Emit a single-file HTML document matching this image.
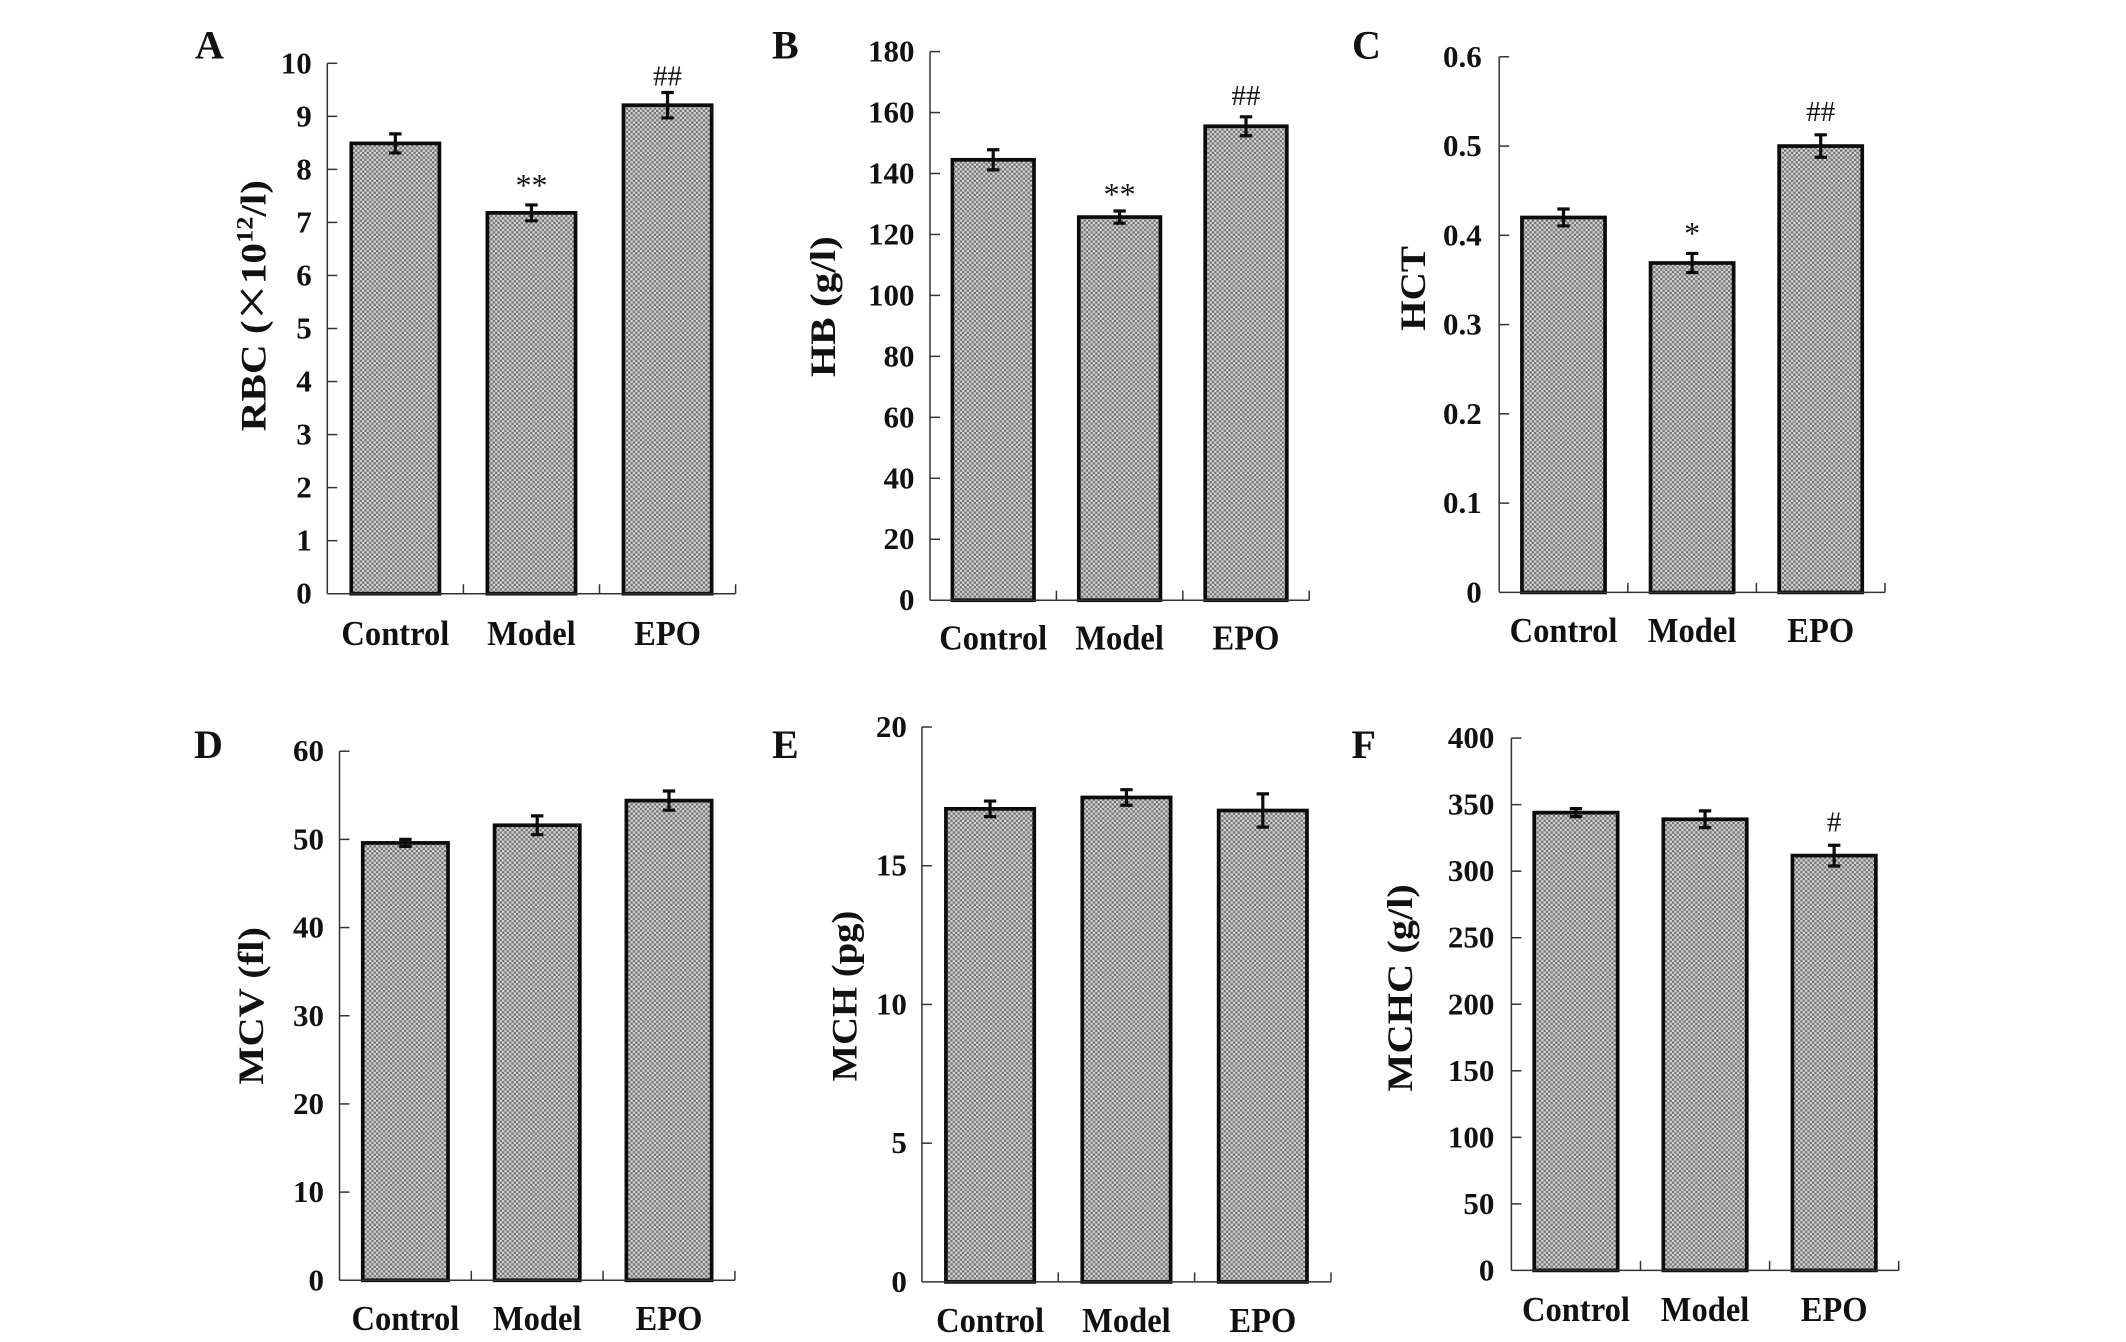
<!DOCTYPE html>
<html lang="en">
<head>
<meta charset="utf-8">
<title>Blood parameter bar charts</title>
<style>
html,body{margin:0;padding:0;background:#fff;}
svg{display:block;}
text{font-family:"Liberation Serif","DejaVu Serif",serif;fill:#111;}
</style>
</head>
<body>
<svg id="figure" xmlns="http://www.w3.org/2000/svg" width="2126" height="1342" viewBox="0 0 2126 1342">
<defs>
<pattern id="dots" patternUnits="userSpaceOnUse" width="4.67" height="4.67">
<rect width="4.67" height="4.67" fill="#d4d4d4"/>
<rect width="2.33" height="2.33" fill="#747474"/>
<rect x="2.33" y="2.33" width="2.34" height="2.34" fill="#747474"/>
</pattern>
</defs>
<rect width="2126" height="1342" fill="#fff"/>
</svg>
<script>
// Shared categories
const categories = ['Control', 'Model', 'EPO'];

// Panel A: RBC
const rbcTicks = ['0','1','2','3','4','5','6','7','8','9','10'];
const rbcValues = [8.49, 7.18, 9.21];
const rbcErrors = [0.18, 0.15, 0.24];
const rbcMarks = ['', '**', '##'];

// Panel B: HB
const hbTicks = ['0','20','40','60','80','100','120','140','160','180'];
const hbValues = [144.5, 125.7, 155.5];
const hbErrors = [3.3, 2.0, 3.1];
const hbMarks = ['', '**', '##'];

// Panel C: HCT
const hctTicks = ['0','0.1','0.2','0.3','0.4','0.5','0.6'];
const hctValues = [0.42, 0.369, 0.5];
const hctErrors = [0.0095, 0.0107, 0.0126];
const hctMarks = ['', '*', '##'];

// Panel D: MCV
const mcvTicks = ['0','10','20','30','40','50','60'];
const mcvValues = [49.6, 51.6, 54.4];
const mcvErrors = [0.4, 1.07, 1.09];
const mcvMarks = ['', '', ''];

// Panel E: MCH
const mchTicks = ['0','5','10','15','20'];
const mchValues = [17.05, 17.46, 16.99];
const mchErrors = [0.28, 0.28, 0.6];
const mchMarks = ['', '', ''];

// Panel F: MCHC
const mchcTicks = ['0','50','100','150','200','250','300','350','400'];
const mchcValues = [344, 339, 311.7];
const mchcErrors = [3, 6.3, 7.8];
const mchcMarks = ['', '', '#'];

const NS = 'http://www.w3.org/2000/svg';
const svg = document.getElementById('figure');

function make(parent, tag, attrs, content) {
  const el = document.createElementNS(NS, tag);
  for (const k in attrs) el.setAttribute(k, attrs[k]);
  if (content !== undefined) el.textContent = content;
  parent.appendChild(el);
  return el;
}

function drawPanel(p) {
  const g = make(svg, 'g', {});
  
  

  const maxTick = parseFloat(p.ticks[p.ticks.length - 1]);
  const yScale = v => p.y0 - (v / maxTick) * (p.y0 - p.yTop);
  const bandW = (p.x1 - p.x0) / p.categories.length;
  const xCenter = i => p.x0 + bandW * (i + 0.5);
  const barOuter = bandW * 0.675;
  const sw = 3.7;

  const letter = make(g, 'text', {x: p.letterX, y: p.letterY, 'font-size': 40, 'font-weight': 'bold'}, p.letter);
  
  

  p.values.forEach((v, i) => {
    const cx = xCenter(i);
    const bar = make(g, 'rect', {
      x: cx - barOuter / 2 + sw / 2,
      y: yScale(v),
      width: barOuter - sw,
      height: p.y0 - yScale(v),
      fill: 'url(#dots)',
      stroke: '#0c0c0c',
      'stroke-width': sw
    });
    
    

    const e = p.errors[i];
    const top = yScale(v + e);
    const bottom = yScale(v - e);
    const err = make(g, 'path', {
      d: 'M' + cx + ' ' + top + 'V' + bottom +
         'M' + (cx - 6.2) + ' ' + top + 'H' + (cx + 6.2) +
         'M' + (cx - 6.2) + ' ' + bottom + 'H' + (cx + 6.2),
      fill: 'none',
      stroke: '#0c0c0c',
      'stroke-width': 3.2
    });
    
    

    if (p.marks[i]) {
      const lift = p.markLift[i];
      const mark = make(g, 'text', {
        x: cx, y: top - lift,
        'font-size': p.marks[i].charAt(0) === '*' ? 32 : 29,
        'text-anchor': 'middle'
      }, p.marks[i]);
      
      
    }

    const lab = make(g, 'text', {
      transform: 'translate(' + cx + ',' + (p.y0 + p.labelDrop) + ') scale(0.93,1)',
      'font-size': 35,
      'font-weight': 'bold',
      'text-anchor': 'middle'
    }, p.categories[i]);
    
    
  });

  const yAxis = make(g, 'line', {x1: p.x0, x2: p.x0, y1: p.yTop, y2: p.y0, stroke: '#333', 'stroke-width': 1.5});
  
  

  const xAxis = make(g, 'line', {x1: p.x0, x2: p.x1, y1: p.y0, y2: p.y0, stroke: '#333', 'stroke-width': 1.5});
  
  

  p.ticks.forEach(t => {
    const y = yScale(parseFloat(t));
    if (parseFloat(t) !== 0) {
      const tick = make(g, 'line', {x1: p.x0, x2: p.x0 + 10, y1: y, y2: y, stroke: '#333', 'stroke-width': 1.5});
      
      
    }
    const label = make(g, 'text', {
      x: p.x0 - p.tickGap,
      y: y + 10,
      'font-size': 31,
      'font-weight': 'bold',
      'text-anchor': 'end'
    }, t);
    
    
  });

  p.categories.forEach((c, i) => {
    const x = p.x0 + bandW * (i + 1);
    const tick = make(g, 'line', {x1: x, x2: x, y1: p.y0, y2: p.y0 - 9.5, stroke: '#333', 'stroke-width': 1.5});
    
    
  });

  const title = make(g, 'text', {
    transform: 'translate(' + p.titleX + ',' + p.titleY + ') rotate(-90)',
    'font-size': 36,
    'font-weight': 'bold',
    'text-anchor': 'middle',
    textLength: p.titleLen,
    lengthAdjust: 'spacingAndGlyphs'
  });
  
  
  title.appendChild(document.createTextNode(p.titleStart));
  if (p.titleSup) {
    const times = make(title, 'tspan', {'font-size': 56, 'font-weight': 'normal', dy: 5}, '\u00D7');
    
    
    make(title, 'tspan', {dy: -5}, '10');
    const sup = make(title, 'tspan', {'font-size': 23, dy: -13}, p.titleSup);
    
    
    make(title, 'tspan', {dy: 13}, p.titleEnd);
  }
}

drawPanel({letter: 'A', letterX: 195, letterY: 58.5, x0: 327.3, x1: 735.6, yTop: 63.3, y0: 593.7,
  tickGap: 15.5, labelDrop: 51.2, titleX: 265.7, titleY: 305.7, titleLen: 251.5,
  titleStart: 'RBC (', titleSup: '12', titleEnd: '/l)',
  categories: categories, ticks: rbcTicks, values: rbcValues, errors: rbcErrors, marks: rbcMarks, markLift: [0, 9, 7]});

drawPanel({letter: 'B', letterX: 772, letterY: 58.5, x0: 930, x1: 1309.2, yTop: 51.6, y0: 600.2,
  tickGap: 15.5, labelDrop: 49.4, titleX: 835, titleY: 306.6, titleLen: 141,
  titleStart: 'HB (g/l)',
  categories: categories, ticks: hbTicks, values: hbValues, errors: hbErrors, marks: hbMarks, markLift: [0, 6, 12]});

drawPanel({letter: 'C', letterX: 1352, letterY: 58.5, x0: 1499.2, x1: 1885, yTop: 56.8, y0: 592.4,
  tickGap: 17.5, labelDrop: 49.4, titleX: 1425, titleY: 288.4, titleLen: 84.6,
  titleStart: 'HCT',
  categories: categories, ticks: hctTicks, values: hctValues, errors: hctErrors, marks: hctMarks, markLift: [0, 9.3, 14]});

drawPanel({letter: 'D', letterX: 194, letterY: 758.1, x0: 339.5, x1: 734.9, yTop: 751.2, y0: 1280.3,
  tickGap: 15.5, labelDrop: 49.5, titleX: 263, titleY: 1005.9, titleLen: 157.7,
  titleStart: 'MCV (fl)',
  categories: categories, ticks: mcvTicks, values: mcvValues, errors: mcvErrors, marks: mcvMarks, markLift: [0, 0, 0]});

drawPanel({letter: 'E', letterX: 772, letterY: 758.1, x0: 921.9, x1: 1331, yTop: 727, y0: 1281.9,
  tickGap: 15, labelDrop: 50, titleX: 856.5, titleY: 996, titleLen: 170.8,
  titleStart: 'MCH (pg)',
  categories: categories, ticks: mchTicks, values: mchValues, errors: mchErrors, marks: mchMarks, markLift: [0, 0, 0]});

drawPanel({letter: 'F', letterX: 1351.5, letterY: 758.1, x0: 1511.4, x1: 1898.7, yTop: 738.1, y0: 1270.4,
  tickGap: 17, labelDrop: 50.8, titleX: 1412, titleY: 987.9, titleLen: 207.6,
  titleStart: 'MCHC (g/l)',
  categories: categories, ticks: mchcTicks, values: mchcValues, errors: mchcErrors, marks: mchcMarks, markLift: [0, 0, 13.5]});
</script>
</body>
</html>
